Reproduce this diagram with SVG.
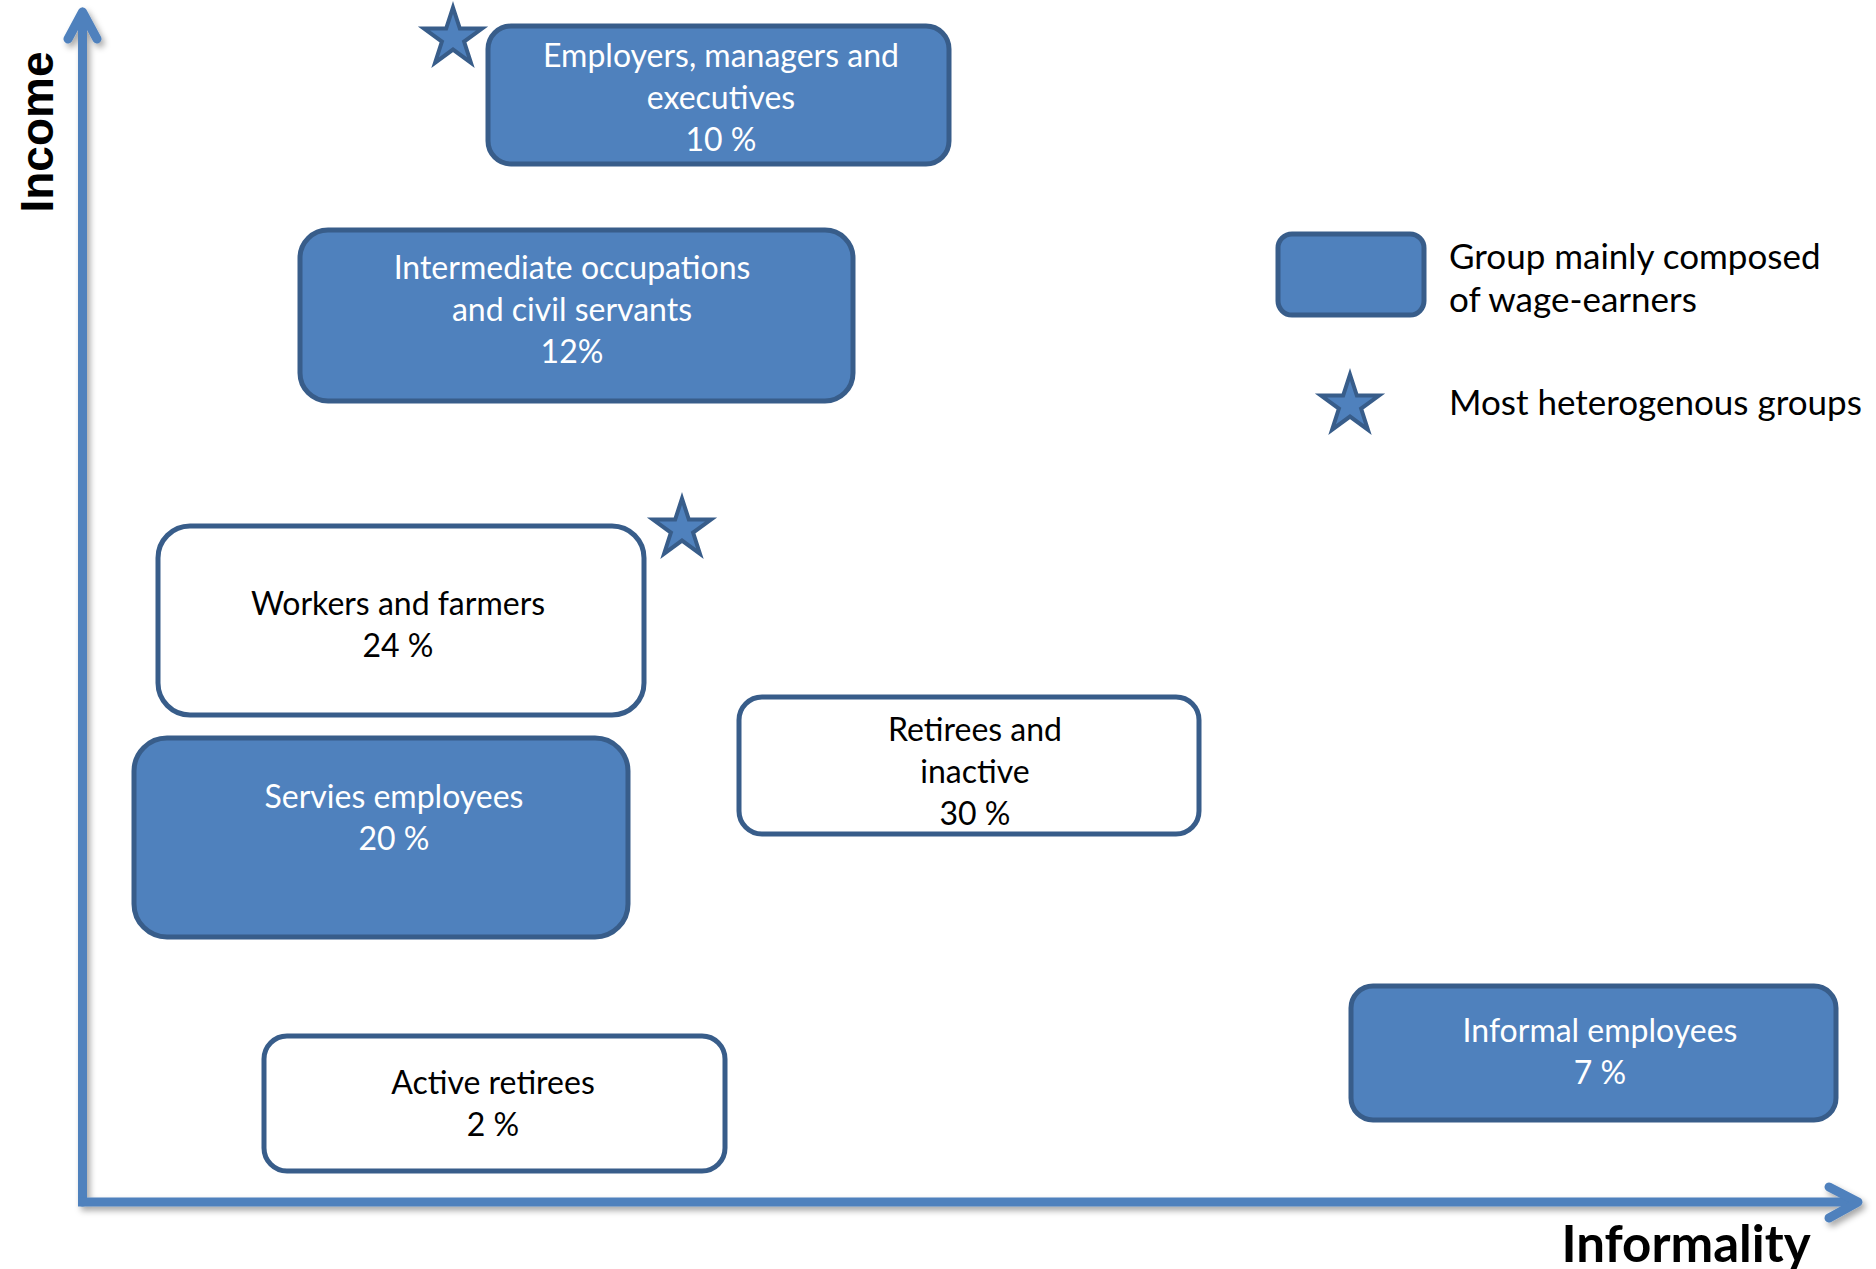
<svg xmlns="http://www.w3.org/2000/svg" width="1876" height="1269" viewBox="0 0 1876 1269">
<style>
.fbox{fill:#4F81BD;stroke:#385D8A;stroke-width:5}
.wbox{fill:#FFFFFF;stroke:#385D8A;stroke-width:5}
.star{fill:#4F81BD;stroke:#385D8A;stroke-width:4;stroke-linejoin:miter}
.wt{font-family:Lato,"Open Sans","Liberation Sans",sans-serif;font-size:32px;fill:#FFFFFF;text-anchor:middle}
.bt{font-family:Lato,"Open Sans","Liberation Sans",sans-serif;font-size:32px;fill:#000000;text-anchor:middle}
.lt{font-family:Lato,"Open Sans","Liberation Sans",sans-serif;font-size:35px;fill:#000000}
.axis{fill:none;stroke:#4F81BD;stroke-width:9;stroke-linecap:round;stroke-linejoin:round}
</style>
<defs>
<filter id="sh" x="-5%" y="-5%" width="110%" height="110%">
<feDropShadow dx="3" dy="4" stdDeviation="3" flood-color="#000000" flood-opacity="0.35"/>
</filter>
<polygon id="starShape" points="0,-30.5 6.85,-9.4 29,-9.4 11.1,3.6 17.9,24.7 0,11.6 -17.9,24.7 -11.1,3.6 -29,-9.4 -6.85,-9.4"/>
</defs>
<rect width="1876" height="1269" fill="#FFFFFF"/>

<g id="connectors" filter="url(#sh)">
<path class="axis" d="M82.5,1202 V12 M68,39 L82.5,12 L97,39"/>
<path class="axis" d="M78,1202 H1858" style="stroke-linecap:butt"/>
<path class="axis" d="M1829,1187 L1858,1202 L1829,1218"/>
</g>

<g id="axis-labels">
<text x="0" y="0" transform="translate(53,132) rotate(-90)" style="font-family:'Liberation Sans',Arial,sans-serif;font-weight:bold;font-size:46px;fill:#000;text-anchor:middle">Income</text>
<text x="1686" y="1262" style="font-family:Lato,'Liberation Sans',sans-serif;font-weight:bold;font-size:51px;fill:#000;text-anchor:middle">Informality</text>
</g>

<g id="employers">
<rect class="fbox" x="488" y="26" width="461" height="138" rx="23"/>
<text class="wt" x="721" y="67">Employers, managers and</text>
<text class="wt" x="721" y="109">executives</text>
<text class="wt" x="721" y="151">10 %</text>
</g>
<g id="star-employers"><use href="#starShape" class="star" x="453" y="38"/></g>

<g id="intermediate">
<rect class="fbox" x="300" y="230" width="553" height="171" rx="28"/>
<text class="wt" x="572" y="279">Intermediate occupations</text>
<text class="wt" x="572" y="321">and civil servants</text>
<text class="wt" x="572" y="363">12%</text>
</g>

<g id="workers">
<rect class="wbox" x="158" y="526" width="486" height="189" rx="32"/>
<text class="bt" x="398" y="615">Workers and farmers</text>
<text class="bt" x="398" y="657">24 %</text>
</g>
<g id="star-workers"><use href="#starShape" class="star" x="682" y="529"/></g>

<g id="services">
<rect class="fbox" x="134" y="738" width="494" height="199" rx="33"/>
<text class="wt" x="394" y="808">Servies employees</text>
<text class="wt" x="394" y="850">20 %</text>
</g>

<g id="retirees">
<rect class="wbox" x="739" y="697" width="460" height="137" rx="23"/>
<text class="bt" x="975" y="741">Retirees and</text>
<text class="bt" x="975" y="783">inactive</text>
<text class="bt" x="975" y="825">30 %</text>
</g>

<g id="active-retirees">
<rect class="wbox" x="264" y="1036" width="461" height="135" rx="23"/>
<text class="bt" x="493" y="1094">Active retirees</text>
<text class="bt" x="493" y="1136">2 %</text>
</g>

<g id="informal">
<rect class="fbox" x="1351" y="986" width="485" height="134" rx="22"/>
<text class="wt" x="1600" y="1042">Informal employees</text>
<text class="wt" x="1600" y="1084">7 %</text>
</g>

<g id="legend">
<rect class="fbox" x="1278" y="234" width="146" height="81" rx="14"/>
<text class="lt" x="1449" y="269">Group mainly composed</text>
<text class="lt" x="1449" y="312">of wage-earners</text>
<use href="#starShape" class="star" x="1350" y="405"/>
<text class="lt" x="1449" y="415">Most heterogenous groups</text>
</g>
</svg>
